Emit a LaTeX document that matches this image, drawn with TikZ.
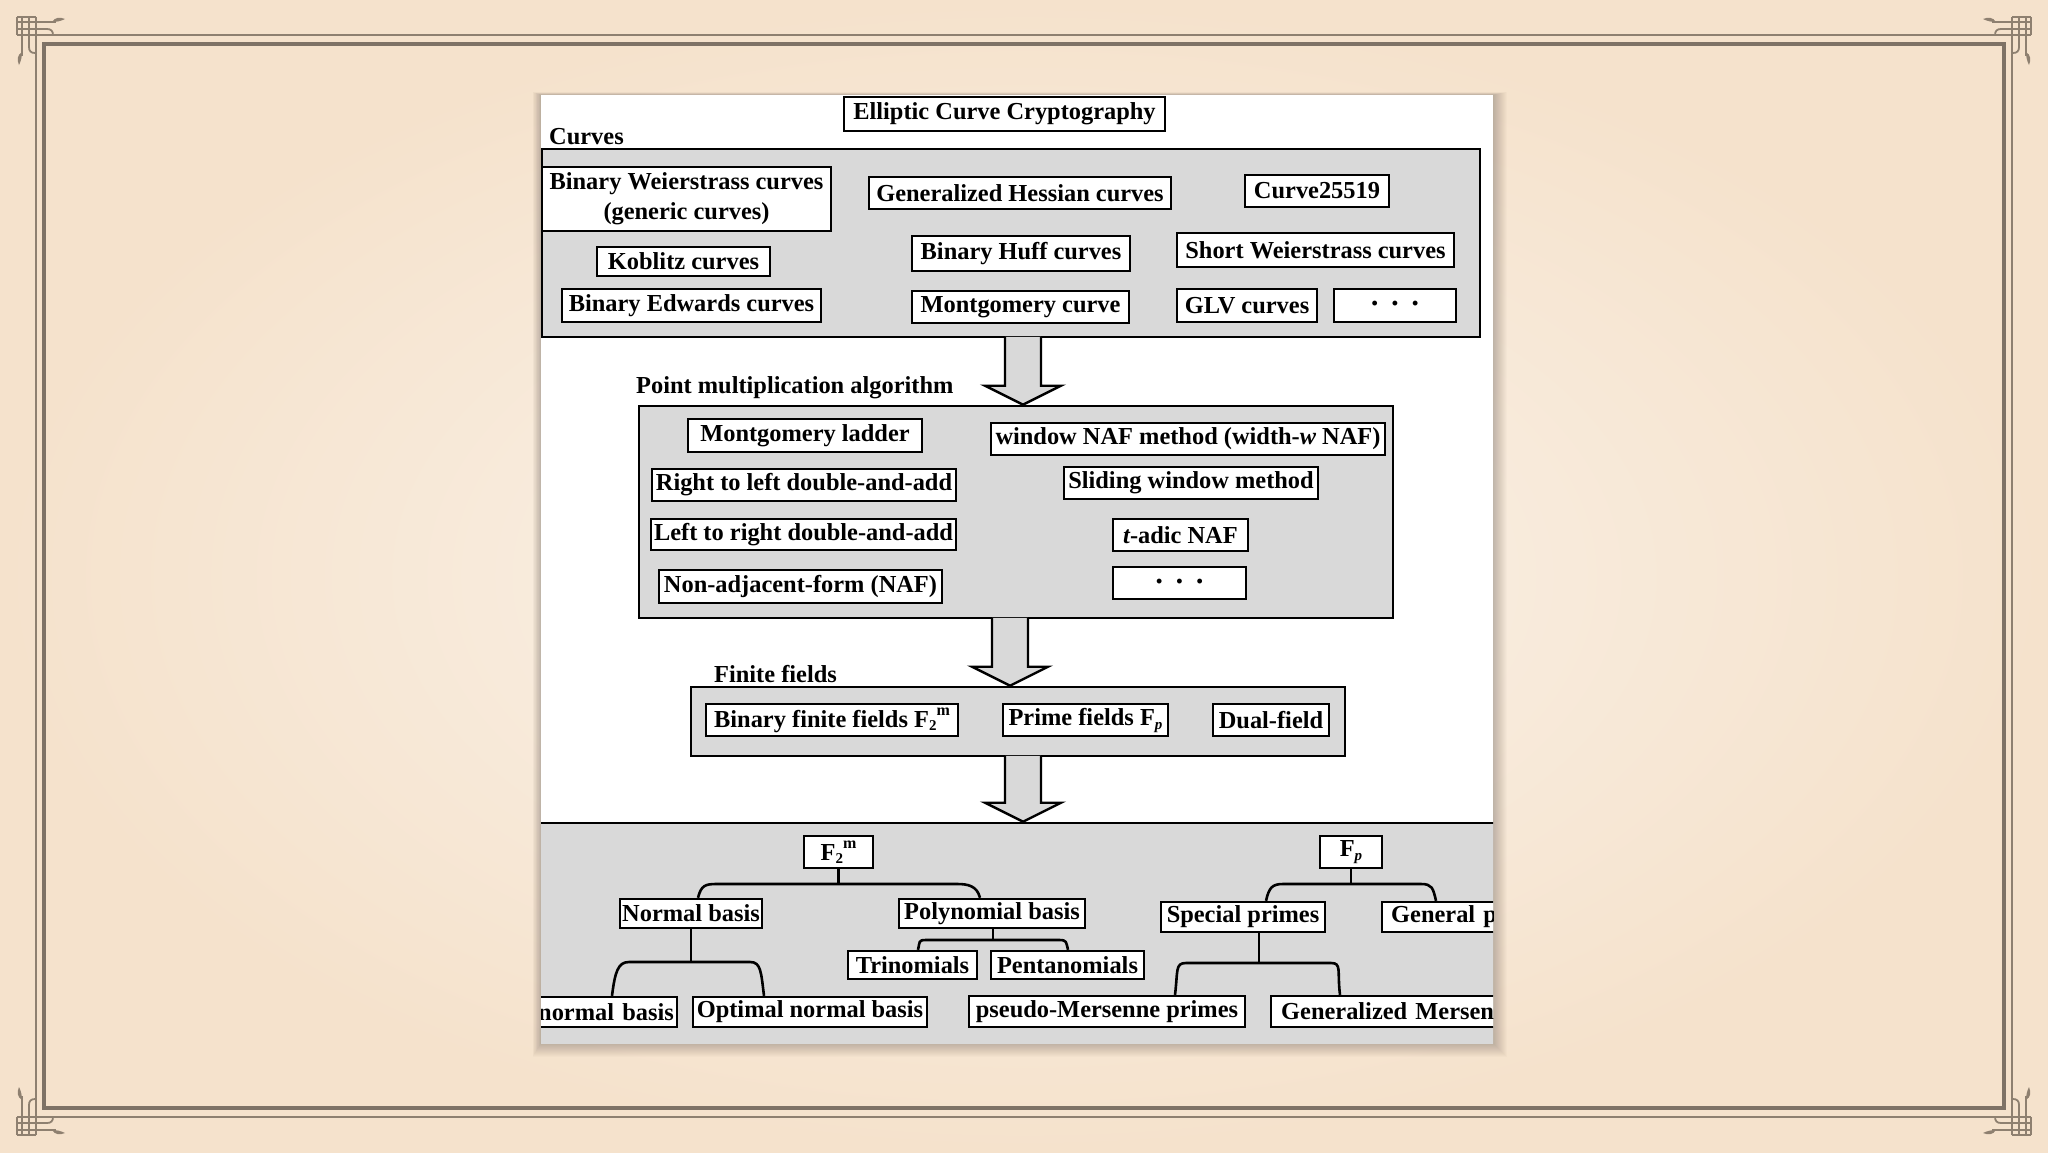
\documentclass[tikz,border=0pt]{standalone}
\usepackage{fontspec}
\setmainfont{Liberation Serif}
\usetikzlibrary{calc}
\definecolor{bgin}{HTML}{FBF3EA}
\definecolor{bgout}{HTML}{F5E2CC}
\definecolor{framec}{HTML}{8E8070}
\definecolor{framed}{HTML}{7E7266}
\definecolor{boxgray}{HTML}{D9D9D9}
\newcommand\Ftm{F\raisebox{-3pt}{\fontsize{15}{15}\selectfont 2}\raisebox{12pt}{\fontsize{16}{16}\selectfont m}}
\newcommand\Fpp{F\raisebox{-4pt}{\fontsize{15}{15}\selectfont\itshape p}}
\newcommand\threedots{{\fontsize{18}{18}\selectfont •\hspace{14pt}•\hspace{14pt}•}}
\tikzset{
 fnt/.style={font=\bfseries\fontsize{24.4}{30}\selectfont},
 wbox/.style={draw=black, line width=2.4pt, fill=white, inner sep=0pt, fnt},
 gbox/.style={draw=black, line width=2.6pt, fill=boxgray, inner sep=0pt},
 lbl/.style={anchor=base west, inner sep=0pt, fnt},
 br/.style={draw=black, line width=2.6pt},
 fatarr/.style={fill=boxgray, draw=black, line width=2.4pt, line join=miter},
 orn/.style={draw=framec, line width=1.8pt},
}
\newcommand\fatarrow[2]{\path[fatarr] ([xshift=-18pt,yshift=1.5pt]#1) -- ([xshift=-18pt,yshift=19pt]#2) -- ([xshift=-38pt,yshift=19pt]#2) -- (#2) -- ([xshift=38pt,yshift=19pt]#2) -- ([xshift=18pt,yshift=19pt]#2) -- ([xshift=18pt,yshift=1.5pt]#1);}
\newcommand\orncorner{%
 \draw[orn] (17,17) -- (36,17);
 \draw[orn] (17,17) -- (17,35);
 \draw[orn] (17,22) -- (56,22);
 \draw[orn] (22,17) -- (22,56);
 \draw[orn] (17,29) -- (47,29) .. controls (51,29) and (53,31) .. (53,35);
 \draw[orn] (29,17) -- (29,47) .. controls (29,51) and (31,53) .. (35,53);
 \fill[framec] (52,22) .. controls (55,17) and (60,17) .. (65,19) .. controls (61,21) and (57,22) .. (52,22) -- cycle;
 \fill[framec] (22,52) .. controls (17,55) and (17,60) .. (19,65) .. controls (21,61) and (22,57) .. (22,52) -- cycle;
}
\begin{document}
\begin{tikzpicture}[x=1pt,y=-1pt]
\useasboundingbox (0,0) rectangle (2048,1152);
\shade[inner color=bgin, outer color=bgout] (0,0) rectangle (2048,1152);
% frame
\draw[framec, line width=2pt] (17,35) -- (2031,35);
\draw[framec, line width=2pt] (17,1117) -- (2031,1117);
\draw[framec, line width=2pt] (36,17) -- (36,1135);
\draw[framec, line width=2pt] (2012,17) -- (2012,1135);
\draw[framed, line width=4.5pt] (44,44) rectangle (2004,1108);
\orncorner
\begin{scope}[shift={(2048,0)},xscale=-1]\orncorner\end{scope}
\begin{scope}[shift={(0,1152)},yscale=-1]\orncorner\end{scope}
\begin{scope}[shift={(2048,1152)},xscale=-1,yscale=-1]\orncorner\end{scope}
% panel shadow
\foreach \i in {1,...,14} {\fill[black, opacity=0.016] (541-\i*0.6,95-\i*0.2) rectangle (1493+\i,1043+\i);}
\fill[white] (541,95) rectangle (1493,1043);
\begin{scope}
\clip (541,95) rectangle (1493,1043);
% title
\node[wbox, minimum width=321pt, minimum height=34pt] (title) at (1004.5,114) {Elliptic Curve Cryptography};
% curves
\node[lbl] (curvl) at (549,144) {Curves};
\node[gbox, minimum width=938pt, minimum height=188pt] (cv) at (1011,243) {};
\node[wbox, minimum width=289pt, minimum height=64pt, align=center] (bw) at (686.5,199) {Binary Weierstrass curves\\(generic curves)};
\node[wbox, minimum width=302pt, minimum height=32pt] (gh) at (1020,193) {Generalized Hessian curves};
\node[wbox, minimum width=144pt, minimum height=32pt] (c25) at (1317,191) {Curve25519};
\node[wbox, minimum width=173pt, minimum height=29pt] (kob) at (683.5,261.5) {Koblitz curves};
\node[wbox, minimum width=218pt, minimum height=35pt] (huff) at (1021,253.5) {Binary Huff curves};
\node[wbox, minimum width=277pt, minimum height=34pt] (sw) at (1315.5,250) {Short Weierstrass curves};
\node[wbox, minimum width=259pt, minimum height=33pt] (bed) at (691.5,305.5) {Binary Edwards curves};
\node[wbox, minimum width=217pt, minimum height=32pt] (mont) at (1020.5,307) {Montgomery curve};
\node[wbox, minimum width=140pt, minimum height=33pt] (glv) at (1247,305.5) {GLV curves};
\node[wbox, minimum width=122pt, minimum height=33pt] (dotsa) at (1395,305.5) {\threedots};
% point multiplication
\node[lbl] (pml) at (636,393) {Point multiplication algorithm};
\node[gbox, minimum width=754pt, minimum height=212pt] (pm) at (1016,512) {};
\node[wbox, minimum width=234pt, minimum height=33pt] (ml) at (805,435.5) {Montgomery ladder};
\node[wbox, minimum width=394pt, minimum height=32pt] (wnaf) at (1188,439) {window NAF method (width-{\itshape w} NAF)};
\node[wbox, minimum width=304pt, minimum height=32pt] (rl) at (804,485) {Right to left double-and-add};
\node[wbox, minimum width=254pt, minimum height=32pt] (sl) at (1191,483) {Sliding window method};
\node[wbox, minimum width=305pt, minimum height=31pt] (lr) at (803.5,534.5) {Left to right double-and-add};
\node[wbox, minimum width=135pt, minimum height=32pt] (tadic) at (1180.5,535) {{\itshape t}-adic NAF};
\node[wbox, minimum width=283pt, minimum height=33pt] (naf) at (800.5,586.5) {Non-adjacent-form (NAF)};
\node[wbox, minimum width=133pt, minimum height=32pt] (dotsb) at (1179.5,583) {\threedots};
% finite fields
\node[lbl] (ffl) at (714,682) {Finite fields};
\node[gbox, minimum width=654pt, minimum height=69pt] (ff) at (1018,721.5) {};
\node[wbox, minimum width=252pt, minimum height=32pt] (bff) at (832,720) {Binary finite fields \Ftm};
\node[wbox, minimum width=165pt, minimum height=32pt] (pf) at (1085.5,720) {Prime fields \Fpp};
\node[wbox, minimum width=116pt, minimum height=32pt] (df) at (1271,720) {Dual-field};
% bottom region
\node[gbox, minimum width=965pt, minimum height=227pt] (bot) at (1017.5,936.5) {};
% arrows
\coordinate (ax1) at (1023,0);
\coordinate (ax2) at (1010,0);
\coordinate (a1s) at (cv.south -| ax1);
\coordinate (a1e) at (pm.north -| ax1);
\coordinate (a2s) at (pm.south -| ax2);
\coordinate (a2e) at (ff.north -| ax2);
\coordinate (a3s) at (ff.south -| ax1);
\coordinate (a3e) at (bot.north -| ax1);
\fatarrow{a1s}{a1e}
\fatarrow{a2s}{a2e}
\fatarrow{a3s}{a3e}
% tree
\node[wbox, minimum width=69pt, minimum height=32pt] (f2m) at (838.5,852) {\Ftm};
\node[wbox, minimum width=142pt, minimum height=29pt] (nb) at (691,913.5) {Normal basis};
\node[wbox, minimum width=186pt, minimum height=29pt] (pb) at (992,913.5) {Polynomial basis};
\node[wbox, minimum width=129pt, minimum height=28pt] (tri) at (912.5,965) {Trinomials};
\node[wbox, minimum width=153pt, minimum height=28pt] (pent) at (1067.5,965) {Pentanomials};
\node[wbox, anchor=east, minimum height=30pt, text width=150pt, align=right, inner xsep=3pt] (gnb) at (678,1012) {normal basis};
\node[wbox, minimum width=234pt, minimum height=30pt] (onb) at (810,1012) {Optimal normal basis};
\node[wbox, minimum width=62pt, minimum height=32pt] (fp) at (1351,852) {\Fpp};
\node[wbox, minimum width=164pt, minimum height=30pt] (sp) at (1243,917) {Special primes};
\node[wbox, anchor=west, minimum height=30pt, text width=150pt, align=left, inner xsep=9pt] (gp) at (1381,917) {General p};
\node[wbox, minimum width=276pt, minimum height=31pt] (pmp) at (1107,1011.5) {pseudo-Mersenne primes};
\node[wbox, anchor=west, minimum height=31pt, text width=260pt, align=left, inner xsep=10pt] (gm) at (1270,1011.5) {Generalized Mersen};
% brackets
\coordinate (j1) at (838.5,884);
\draw[br] (f2m.south) -- (j1);
\draw[br] ([xshift=7pt]nb.north) .. controls +(3,-12) and +(-11,0) .. (716,884) -- (957,884) .. controls +(11,0) and +(-3,-12) .. ([xshift=-12pt]pb.north);
\coordinate (j2) at (993,940);
\draw[br] ([xshift=1pt]pb.south) -- (j2);
\draw[br] ([xshift=5.5pt]tri.north) .. controls +(2,-8) and +(-8,0) .. (926,940) -- (1059,940) .. controls +(8,0) and +(-2,-8) .. ([xshift=0.5pt]pent.north);
\coordinate (j3) at (691,962);
\draw[br] (nb.south) -- (j3);
\draw[br] ([xshift=-66pt]gnb.north east) .. controls +(3,-24) and +(-11,0) .. (629,962) -- (750,962) .. controls +(11,0) and +(-3,-24) .. ([xshift=-46pt]onb.north);
\coordinate (j4) at (1351,884);
\draw[br] (fp.south) -- (j4);
\draw[br] ([xshift=23pt]sp.north) .. controls +(3,-13) and +(-11,0) .. (1283,884) -- (1421,884) .. controls +(11,0) and +(-3,-13) .. ([xshift=55pt]gp.north west);
\coordinate (j5) at (1259,963);
\draw[br] ([xshift=16pt]sp.south) -- (j5);
\draw[br] ([xshift=68pt]pmp.north) .. controls +(3,-24) and +(-11,0) .. (1186,963) -- (1331,963) .. controls +(11,0) and +(-3,-24) .. ([xshift=70pt]gm.north west);
\end{scope}
\end{tikzpicture}
\end{document}
